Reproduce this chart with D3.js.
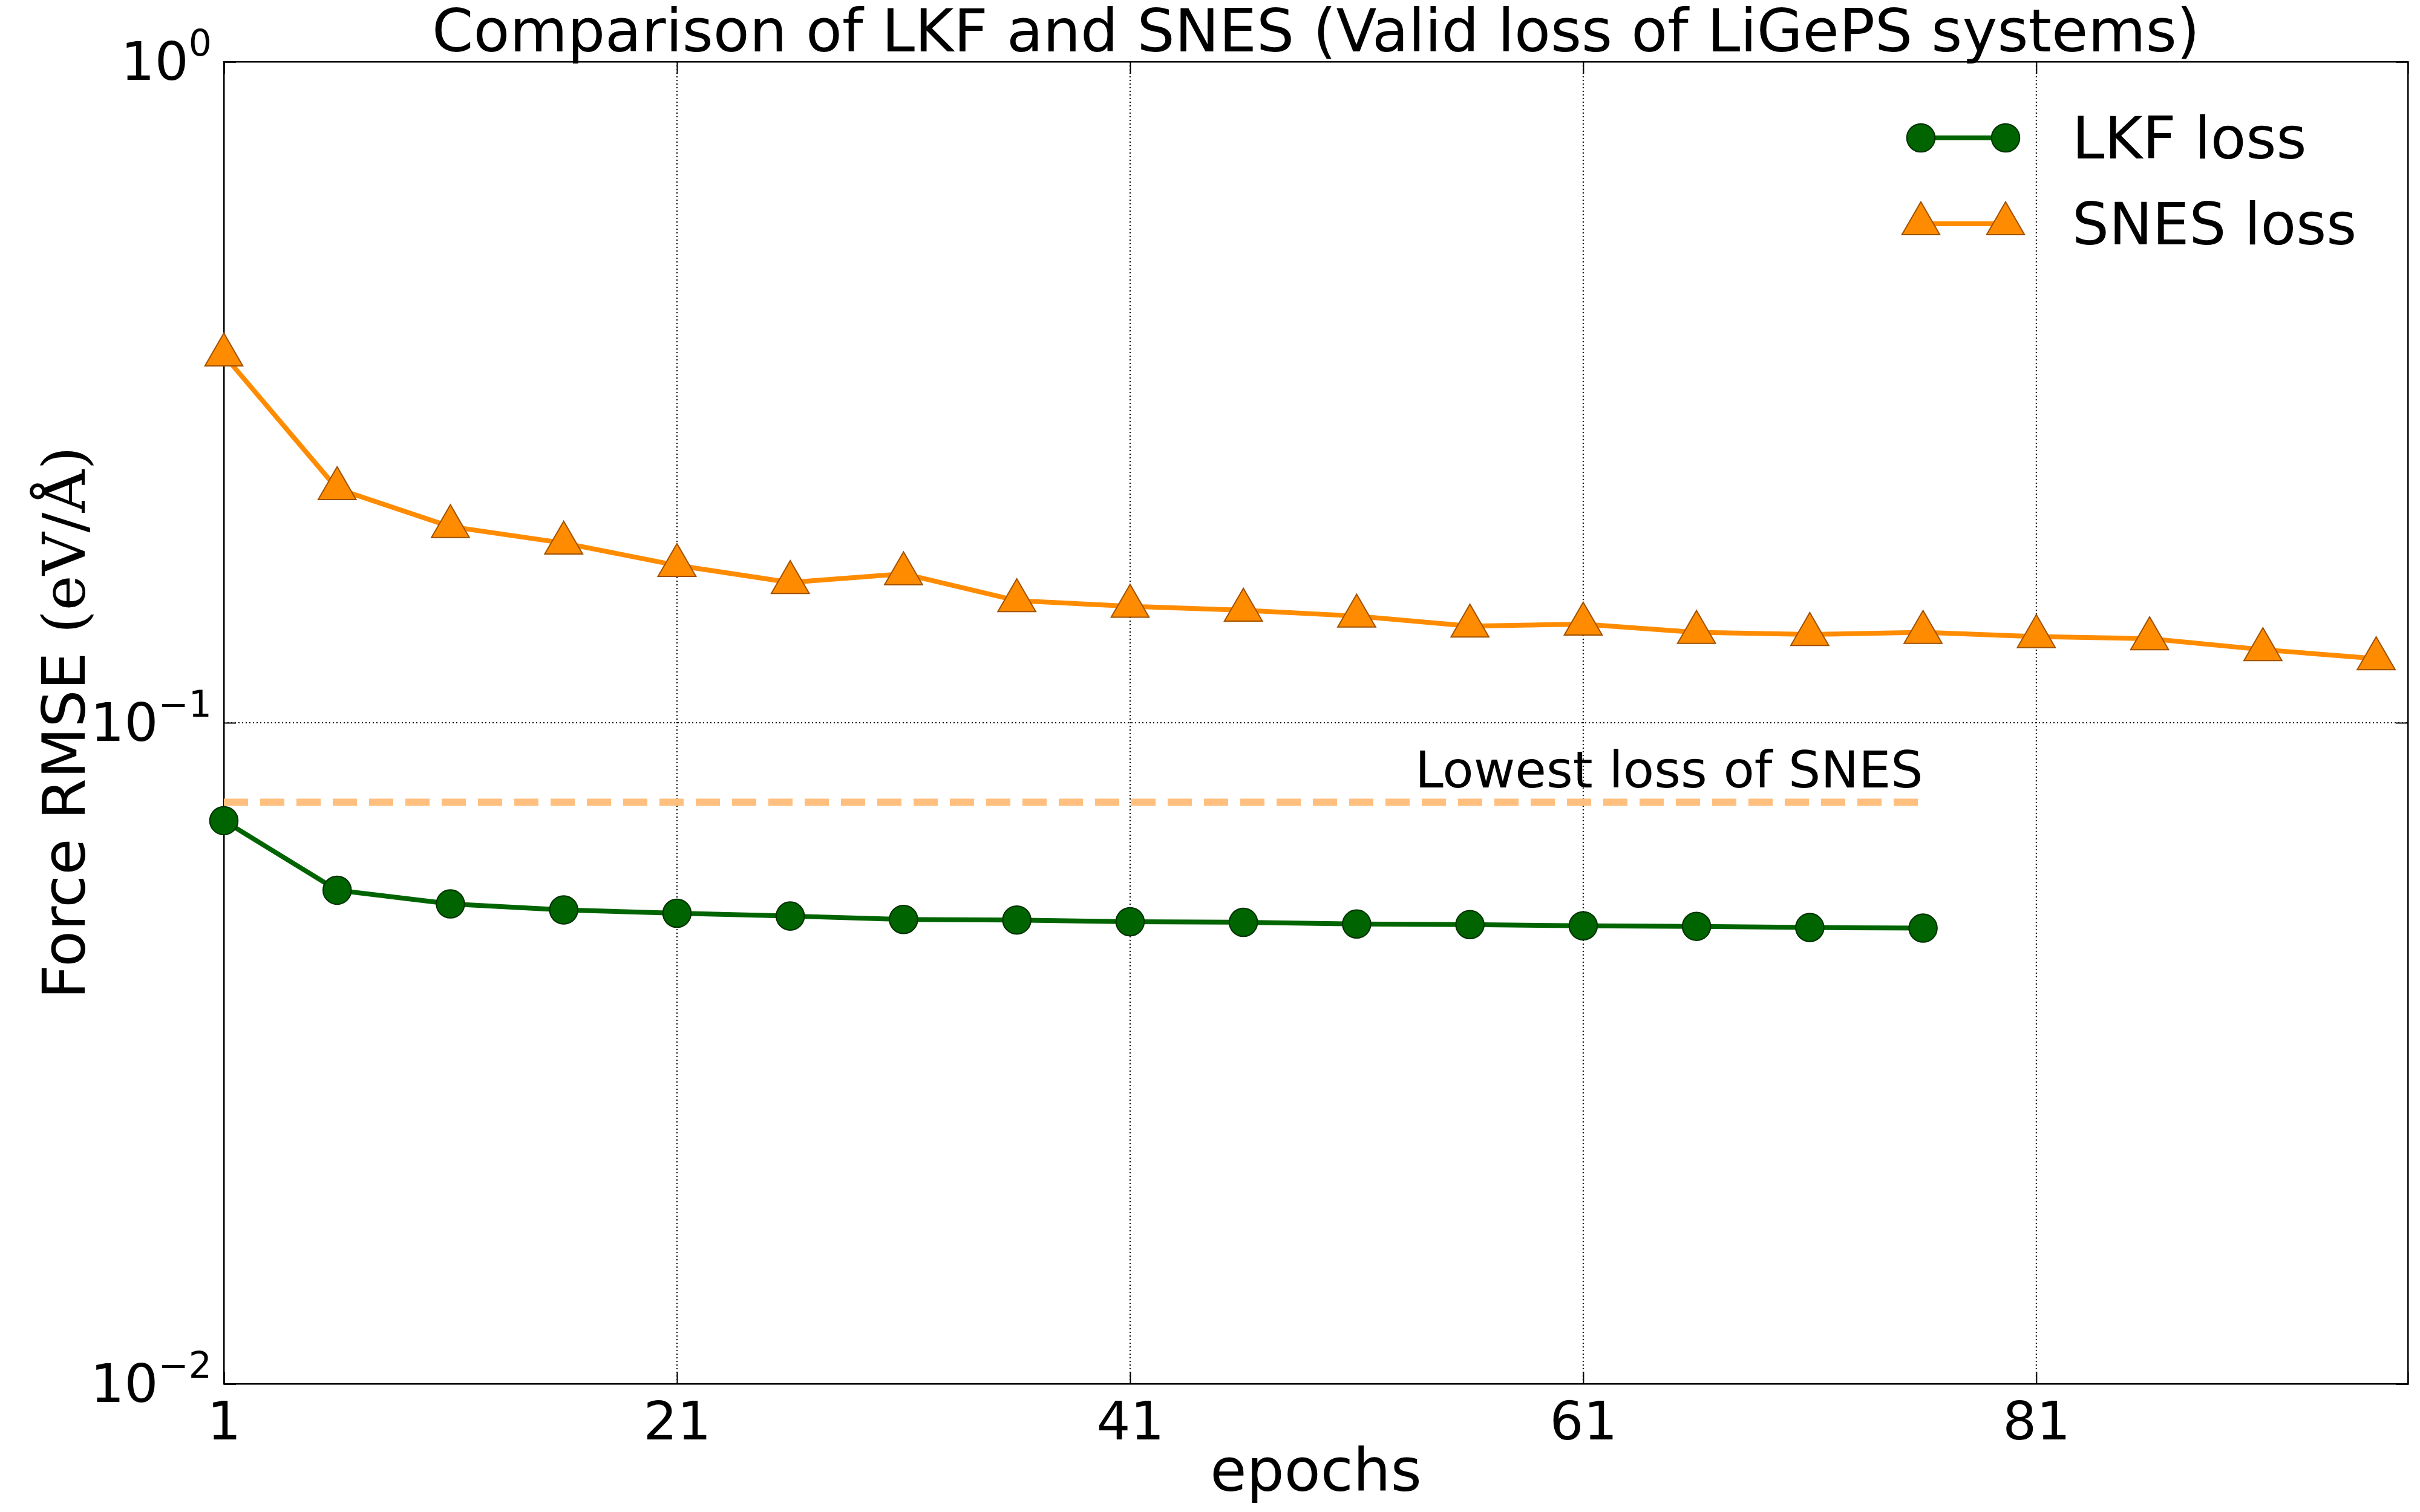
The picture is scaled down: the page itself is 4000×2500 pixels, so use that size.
<!doctype html>
<html>
<head>
  <script src="https://d3js.org/d3.v7.min.js"></script>
  <style>
    body { margin: 0; background: #fff; }
    text { font-family: "DejaVu Sans", sans-serif; }
  </style>
</head>
<body>
<svg id="chart" width="4000" height="2500"></svg>
<script>
const epochsSnes = [1, 6, 11, 16, 21, 26, 31, 36, 41, 46, 51, 56, 61, 66, 71, 76, 81, 86, 91, 96];
const snesLoss = [0.360, 0.226, 0.198, 0.187, 0.173, 0.163, 0.168, 0.153, 0.150, 0.148, 0.145, 0.140, 0.141, 0.137, 0.136, 0.137, 0.135, 0.134, 0.129, 0.125];
const epochsLkf = [1, 6, 11, 16, 21, 26, 31, 36, 41, 46, 51, 56, 61, 66, 71, 76];
const lkfLoss = [0.0711, 0.0558, 0.0532, 0.0521, 0.0515, 0.0510, 0.0504, 0.0503, 0.0500, 0.0499, 0.0496, 0.0495, 0.0493, 0.0492, 0.0490, 0.0489];
const lowestSnes = 0.0758;
const xTicks = [1, 21, 41, 61, 81];
const yTicks = [0.01, 0.1, 1];

const svg = d3.select('#chart');
const L = 370, R = 3980, T = 102, B = 2288;
const x = d3.scaleLinear().domain([1, 97.4]).range([L, R]);
const y = d3.scaleLog().domain([0.01, 1]).range([B, T]);

// grid
svg.selectAll('.gx').data(xTicks.slice(1)).enter().append('line')
  .attr('x1', d => x(d)).attr('x2', d => x(d)).attr('y1', T).attr('y2', B)
  .attr('stroke', '#000').attr('stroke-width', 2).attr('stroke-dasharray', '2,4');
svg.selectAll('.gy').data([0.1]).enter().append('line')
  .attr('x1', L).attr('x2', R).attr('y1', d => y(d)).attr('y2', d => y(d))
  .attr('stroke', '#000').attr('stroke-width', 2).attr('stroke-dasharray', '2,4');

// axes, ticks pointing inward
const xAxis = svg.append('g').attr('transform', `translate(0,${B})`)
  .call(d3.axisBottom(x).tickValues(xTicks).tickSize(-20).tickPadding(30).tickFormat(d3.format('d')));
svg.append('g').attr('transform', `translate(0,${T})`)
  .call(d3.axisTop(x).tickValues(xTicks).tickSize(-20).tickFormat(''));
svg.append('g').attr('transform', `translate(${L},0)`)
  .call(d3.axisLeft(y).tickValues(yTicks).tickSize(-20).tickFormat(''));
svg.append('g').attr('transform', `translate(${R},0)`)
  .call(d3.axisRight(y).tickValues(yTicks).tickSize(-20).tickFormat(''));
svg.selectAll('.domain').attr('stroke', '#000').attr('stroke-width', 2);
svg.selectAll('.tick line').attr('stroke', '#000').attr('stroke-width', 2);
xAxis.selectAll('text').attr('font-size', 88).attr('fill', '#000');

// y tick labels as 10^n
yTicks.forEach(v => {
  const e = Math.round(Math.log10(v));
  const t = svg.append('text').attr('x', L - 20).attr('y', y(v) + 30)
    .attr('text-anchor', 'end').attr('font-size', 88);
  t.append('tspan').text('10');
  t.append('tspan').attr('font-size', 60).attr('dy', -40).text(e === 0 ? '0' : '\u2212' + (-e));
});

// frame
svg.append('rect').attr('x', L).attr('y', T).attr('width', R - L).attr('height', B - T)
  .attr('fill', 'none').attr('stroke', '#000').attr('stroke-width', 2);

// lowest SNES line
svg.append('line').attr('x1', x(1)).attr('x2', x(76))
  .attr('y1', y(lowestSnes)).attr('y2', y(lowestSnes))
  .attr('stroke', '#ffbf7f').attr('stroke-width', 12).attr('stroke-dasharray', '40,20');
svg.append('text').attr('x', x(76)).attr('y', y(lowestSnes) - 25)
  .attr('text-anchor', 'end').attr('font-size', 84).text('Lowest loss of SNES');

const tri = d3.symbol().type(d3.symbolTriangle).size(1700);
const circ = d3.symbol().type(d3.symbolCircle).size(1700);

// SNES
svg.append('path').datum(epochsSnes.map((e, i) => [e, snesLoss[i]]))
  .attr('d', d3.line().x(d => x(d[0])).y(d => y(d[1])))
  .attr('fill', 'none').attr('stroke', '#ff8c00').attr('stroke-width', 8);
svg.selectAll('.st').data(epochsSnes.map((e, i) => [e, snesLoss[i]])).enter().append('path')
  .attr('d', tri).attr('transform', d => `translate(${x(d[0])},${y(d[1])})`)
  .attr('fill', '#ff8c00').attr('stroke', '#a05000').attr('stroke-width', 2);

// LKF
svg.append('path').datum(epochsLkf.map((e, i) => [e, lkfLoss[i]]))
  .attr('d', d3.line().x(d => x(d[0])).y(d => y(d[1])))
  .attr('fill', 'none').attr('stroke', '#006400').attr('stroke-width', 8);
svg.selectAll('.lc').data(epochsLkf.map((e, i) => [e, lkfLoss[i]])).enter().append('path')
  .attr('d', circ).attr('transform', d => `translate(${x(d[0])},${y(d[1])})`)
  .attr('fill', '#006400').attr('stroke', '#003000').attr('stroke-width', 2);

// legend
const legend = [
  { name: 'LKF loss', color: '#006400', sym: circ, stroke: '#003000' },
  { name: 'SNES loss', color: '#ff8c00', sym: tri, stroke: '#a05000' }
];
legend.forEach((d, i) => {
  const ly = 228 + i * 142, lx1 = 3175, lx2 = 3315;
  svg.append('line').attr('x1', lx1).attr('x2', lx2).attr('y1', ly).attr('y2', ly)
    .attr('stroke', d.color).attr('stroke-width', 8);
  [lx1, lx2].forEach(px => svg.append('path').attr('d', d.sym)
    .attr('transform', `translate(${px},${ly})`).attr('fill', d.color)
    .attr('stroke', d.stroke).attr('stroke-width', 2));
  svg.append('text').attr('x', 3425).attr('y', ly + 34).attr('font-size', 96).text(d.name);
});

// titles
svg.append('text').attr('x', (L + R) / 2).attr('y', 85).attr('text-anchor', 'middle')
  .attr('font-size', 98).text('Comparison of LKF and SNES (Valid loss of LiGePS systems)');
svg.append('text').attr('x', (L + R) / 2).attr('y', 2465).attr('text-anchor', 'middle')
  .attr('font-size', 98).text('epochs');
const yl = svg.append('text').attr('transform', `translate(140,${(T + B) / 2}) rotate(-90)`)
  .attr('text-anchor', 'middle').attr('font-size', 98);
yl.append('tspan').text('Force RMSE ');
yl.append('tspan').attr('font-family', 'DejaVu Serif').text('(eV/Å)');
</script>
</body>
</html>
